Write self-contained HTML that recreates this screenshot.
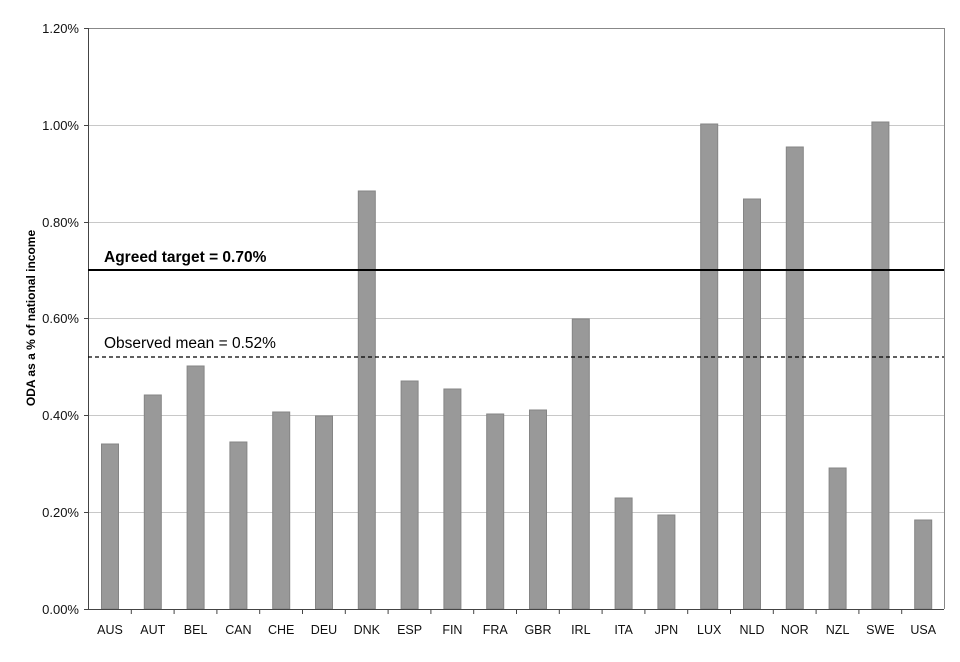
<!DOCTYPE html>
<html><head><style>body{margin:0;background:#fff}</style></head><body>
<svg width="960" height="657" xmlns="http://www.w3.org/2000/svg" font-family="Liberation Sans, Arial, sans-serif">
<rect width="960" height="657" fill="#fff"/>
<g stroke="#c8c8c8" stroke-width="1">
<line x1="88" y1="125.5" x2="944" y2="125.5"/>
<line x1="88" y1="222.5" x2="944" y2="222.5"/>
<line x1="88" y1="318.5" x2="944" y2="318.5"/>
<line x1="88" y1="415.5" x2="944" y2="415.5"/>
<line x1="88" y1="512.5" x2="944" y2="512.5"/>
</g>
<line x1="88" y1="28.5" x2="944" y2="28.5" stroke="#888"/>
<line x1="944.5" y1="28" x2="944.5" y2="609" stroke="#888"/>
<g fill="#999" stroke="#858585" stroke-width="1">
<rect x="101.5" y="444" width="17" height="165"/>
<rect x="144.3" y="395" width="17" height="214"/>
<rect x="187.1" y="366" width="17" height="243"/>
<rect x="229.9" y="442" width="17" height="167"/>
<rect x="272.7" y="412" width="17" height="197"/>
<rect x="315.5" y="416" width="17" height="193"/>
<rect x="358.3" y="191" width="17" height="418"/>
<rect x="401.1" y="381" width="17" height="228"/>
<rect x="443.9" y="389" width="17" height="220"/>
<rect x="486.7" y="414" width="17" height="195"/>
<rect x="529.5" y="410" width="17" height="199"/>
<rect x="572.3" y="319" width="17" height="290"/>
<rect x="615.1" y="498" width="17" height="111"/>
<rect x="657.9" y="515" width="17" height="94"/>
<rect x="700.7" y="124" width="17" height="485"/>
<rect x="743.5" y="199" width="17" height="410"/>
<rect x="786.3" y="147" width="17" height="462"/>
<rect x="829.1" y="468" width="17" height="141"/>
<rect x="871.9" y="122" width="17" height="487"/>
<rect x="914.7" y="520" width="17" height="89"/>
</g>
<line x1="88.5" y1="28" x2="88.5" y2="610" stroke="#444"/>
<line x1="88" y1="609.5" x2="944" y2="609.5" stroke="#444"/>
<g stroke="#444">
<line x1="84" y1="28.5" x2="88" y2="28.5"/><line x1="84" y1="125.5" x2="88" y2="125.5"/>
<line x1="84" y1="222.5" x2="88" y2="222.5"/><line x1="84" y1="318.5" x2="88" y2="318.5"/>
<line x1="84" y1="415.5" x2="88" y2="415.5"/><line x1="84" y1="512.5" x2="88" y2="512.5"/>
<line x1="84" y1="609.5" x2="88" y2="609.5"/>
</g>
<g stroke="#444">
<line x1="131.3" y1="609" x2="131.3" y2="614"/><line x1="174.1" y1="609" x2="174.1" y2="614"/>
<line x1="216.9" y1="609" x2="216.9" y2="614"/><line x1="259.7" y1="609" x2="259.7" y2="614"/>
<line x1="302.5" y1="609" x2="302.5" y2="614"/><line x1="345.3" y1="609" x2="345.3" y2="614"/>
<line x1="388.1" y1="609" x2="388.1" y2="614"/><line x1="430.9" y1="609" x2="430.9" y2="614"/>
<line x1="473.7" y1="609" x2="473.7" y2="614"/><line x1="516.5" y1="609" x2="516.5" y2="614"/>
<line x1="559.3" y1="609" x2="559.3" y2="614"/><line x1="602.1" y1="609" x2="602.1" y2="614"/>
<line x1="644.9" y1="609" x2="644.9" y2="614"/><line x1="687.7" y1="609" x2="687.7" y2="614"/>
<line x1="730.5" y1="609" x2="730.5" y2="614"/><line x1="773.3" y1="609" x2="773.3" y2="614"/>
<line x1="816.1" y1="609" x2="816.1" y2="614"/><line x1="858.9" y1="609" x2="858.9" y2="614"/>
<line x1="901.7" y1="609" x2="901.7" y2="614"/>
</g>
<line x1="88" y1="270" x2="944" y2="270" stroke="#000" stroke-width="2"/>
<line x1="88" y1="357" x2="944" y2="357" stroke="#000" stroke-width="1.3" stroke-dasharray="4,3"/>
<text x="104" y="262" font-size="15.5" font-weight="bold">Agreed target = 0.70%</text>
<text x="104" y="348" font-size="15.5">Observed mean = 0.52%</text>
<g font-size="13" text-anchor="end" fill="#111">
<text x="79" y="33">1.20%</text><text x="79" y="130">1.00%</text><text x="79" y="227">0.80%</text>
<text x="79" y="323">0.60%</text><text x="79" y="420">0.40%</text><text x="79" y="517">0.20%</text>
<text x="79" y="614">0.00%</text>
</g>
<g font-size="12.5" text-anchor="middle" fill="#111">
<text x="110" y="634">AUS</text><text x="152.8" y="634">AUT</text><text x="195.6" y="634">BEL</text>
<text x="238.4" y="634">CAN</text><text x="281.2" y="634">CHE</text><text x="324" y="634">DEU</text>
<text x="366.8" y="634">DNK</text><text x="409.6" y="634">ESP</text><text x="452.4" y="634">FIN</text>
<text x="495.2" y="634">FRA</text><text x="538" y="634">GBR</text><text x="580.8" y="634">IRL</text>
<text x="623.6" y="634">ITA</text><text x="666.4" y="634">JPN</text><text x="709.2" y="634">LUX</text>
<text x="752" y="634">NLD</text><text x="794.8" y="634">NOR</text><text x="837.6" y="634">NZL</text>
<text x="880.4" y="634">SWE</text><text x="923.2" y="634">USA</text>
</g>
<text transform="translate(35,318) rotate(-90)" font-size="12" font-weight="bold" text-anchor="middle">ODA as a % of national income</text>
</svg>
</body></html>
